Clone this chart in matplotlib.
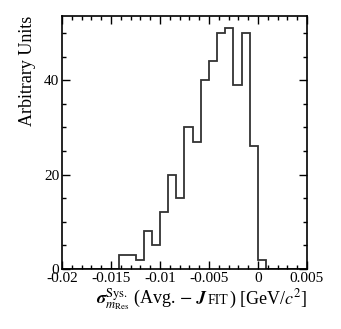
import matplotlib
matplotlib.use('Agg')
import matplotlib.pyplot as plt
import numpy as np
from matplotlib.ticker import MultipleLocator
from matplotlib.offsetbox import TextArea, HPacker, AnchoredOffsetbox

# Histogram data: 30 bins from -0.02 to 0.005
BIN_LO = -0.02
BIN_HI = 0.005
NUM_BINS = 30
counts = [0, 0, 0, 0, 0, 0, 0, 3, 3, 2,
          8, 5, 12, 20, 15, 30, 27, 40, 44, 50,
          51, 39, 50, 26, 2, 0, 0, 0, 0, 0]

x_ticks = [-0.02, -0.015, -0.01, -0.005, 0, 0.005]
x_tick_labels = ['-0.02', '-0.015', '-0.01', '-0.005', '0', '0.005']
y_ticks = [0, 20, 40]

plt.rcParams['font.family'] = ['Liberation Serif', 'DejaVu Serif']
plt.rcParams['mathtext.fontset'] = 'stix'

fig = plt.figure(figsize=(3.41, 3.29), dpi=100)
ax = fig.add_axes([0.182, 0.182, 0.718, 0.769])

edges = np.linspace(BIN_LO, BIN_HI, NUM_BINS + 1)
ax.stairs(counts, edges, color='#333333', linewidth=1.3)

ax.set_xlim(BIN_LO, BIN_HI)
ax.set_ylim(0, 1.05 * max(counts))
ax.set_xticks(x_ticks)
ax.set_xticklabels(x_tick_labels)
ax.set_yticks(y_ticks)
ax.xaxis.set_minor_locator(MultipleLocator(0.001))
ax.yaxis.set_minor_locator(MultipleLocator(5))

ax.tick_params(which='both', direction='in', top=True, right=True,
               labelsize=11, pad=2)
ax.tick_params(which='major', length=6, width=1)
ax.tick_params(which='minor', length=3, width=1)
for sp in ax.spines.values():
    sp.set_linewidth(1.2)

ax.set_ylabel('Arbitrary Units', fontsize=13, loc='top', labelpad=6)

# x label built from pieces so "FIT" can be smaller (ROOT style, right aligned)
part1 = TextArea(r'$\boldsymbol{\sigma}^{\mathrm{Sys.}}_{m_{\mathrm{Res}}}$ (Avg. $-$ $\boldsymbol{J}$',
                 textprops=dict(fontsize=13))
part2 = TextArea('FIT', textprops=dict(fontsize=10))
part3 = TextArea(r') [GeV/$c^{2}$]', textprops=dict(fontsize=13))
label_box = HPacker(children=[part1, part2, part3], align='baseline', pad=0, sep=0)
anchored = AnchoredOffsetbox(loc='upper right', child=label_box, pad=0, borderpad=0,
                             frameon=False, bbox_to_anchor=(1.0, -0.07),
                             bbox_transform=ax.transAxes)
ax.add_artist(anchored)

fig.savefig('out.png', dpi=100)
